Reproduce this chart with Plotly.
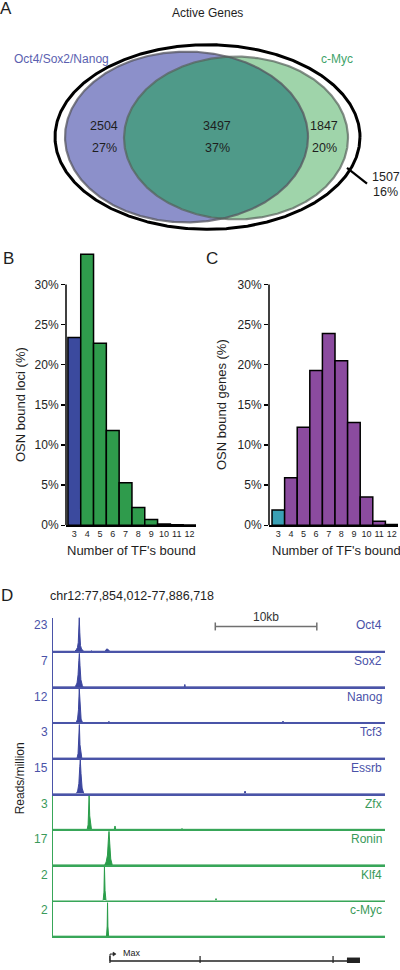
import numpy as np
import plotly.graph_objects as go

W, H = 400, 970
FONT = "Liberation Sans, Arial, sans-serif"
TXT = "#1e1e1e"

# ---------------- data ----------------
VENN_TITLE = "Active Genes"
SET_NAMES = ["Oct4/Sox2/Nanog", "c-Myc"]
VENN_COUNTS = [2504, 3497, 1847, 1507]          # OSN only, both, c-Myc only, neither
VENN_PCTS = ["27%", "37%", "20%", "16%"]

TF_BOUND = [3, 4, 5, 6, 7, 8, 9, 10, 11, 12]
LOCI_PCT = [23.4, 33.8, 22.7, 11.8, 5.3, 2.2, 0.7, 0.16, 0.05, 0.02]
GENES_PCT = [1.9, 5.9, 12.2, 19.3, 23.9, 20.5, 12.8, 3.5, 0.5, 0.08]
Y_TICKS = [0, 5, 10, 15, 20, 25, 30]

REGION = "chr12:77,854,012-77,886,718"
REGION_START, REGION_END = 77854012, 77886718

TRACK_NAMES = ["Oct4", "Sox2", "Nanog", "Tcf3", "Essrb", "Zfx", "Ronin", "Klf4", "c-Myc"]
TRACK_MAX = [23, 7, 12, 3, 15, 3, 17, 2, 2]
TRACK_GROUP = ["OSN", "OSN", "OSN", "OSN", "OSN", "Myc", "Myc", "Myc", "Myc"]

OCT4_POS = [77854012, 77856150, 77856300, 77856420, 77856500, 77856560, 77856600, 77856650, 77856720,
            77856820, 77856950, 77857050, 77857700, 77857780, 77857860, 77859150, 77859300, 77859450,
            77859600, 77886718]
OCT4_VAL = [0, 0, 1.0, 2.5, 6, 15, 23, 13, 4, 1.5, 0.5, 0, 0, 0.4, 0, 0, 1.6, 1.2, 0, 0]
SOX2_POS = [77854012, 77856200, 77856380, 77856480, 77856560, 77856610, 77856670, 77856760, 77856900,
            77857000, 77866950, 77867000, 77867050, 77886718]
SOX2_VAL = [0, 0, 0.8, 2.5, 5.5, 7, 4.5, 1.5, 0.3, 0, 0, 0.5, 0, 0]
NANOG_POS = [77854012, 77856300, 77856430, 77856520, 77856600, 77856680, 77856780, 77856920,
             77859450, 77859520, 77859590, 77876600, 77876670, 77876740, 77886718]
NANOG_VAL = [0, 0, 1.2, 4.5, 12, 5, 1.2, 0, 0, 0.4, 0, 0, 0.5, 0, 0]
TCF3_POS = [77854012, 77856380, 77856480, 77856560, 77856610, 77856670, 77856760, 77856850, 77886718]
TCF3_VAL = [0, 0, 0.4, 2.0, 3, 1.2, 0.2, 0, 0]
ESSRB_POS = [77854012, 77856300, 77856440, 77856560, 77856650, 77856700, 77856770, 77856880, 77857050,
             77859200, 77859250, 77859300, 77872850, 77872930, 77873010, 77886718]
ESSRB_VAL = [0, 0, 1.2, 4.5, 12, 15, 9, 2.5, 0, 0, 0.2, 0, 0, 1.2, 0, 0]
ZFX_POS = [77854012, 77857380, 77857470, 77857530, 77857570, 77857630, 77857720, 77857800,
           77860050, 77860120, 77860190, 77866650, 77866720, 77866790, 77886718]
ZFX_VAL = [0, 0, 0.4, 2.2, 3, 1.2, 0.2, 0, 0, 0.3, 0, 0, 0.08, 0, 0]
RONIN_POS = [77854012, 77859100, 77859250, 77859380, 77859470, 77859530, 77859600, 77859700, 77859850, 77886718]
RONIN_VAL = [0, 0, 1.5, 5, 13, 17, 11, 3, 0, 0]
KLF4_POS = [77854012, 77858950, 77859030, 77859080, 77859140, 77859230, 77870020, 77870070, 77870120, 77886718]
KLF4_VAL = [0, 0, 0.5, 2, 0.6, 0, 0, 0.12, 0, 0]
CMYC_POS = [77854012, 77859280, 77859350, 77859385, 77859420, 77859490, 77886718]
CMYC_VAL = [0, 0, 0.6, 2, 0.6, 0, 0]

TRACK_POS = [OCT4_POS, SOX2_POS, NANOG_POS, TCF3_POS, ESSRB_POS, ZFX_POS, RONIN_POS, KLF4_POS, CMYC_POS]
TRACK_VAL = [OCT4_VAL, SOX2_VAL, NANOG_VAL, TCF3_VAL, ESSRB_VAL, ZFX_VAL, RONIN_VAL, KLF4_VAL, CMYC_VAL]

SCALE_START, SCALE_END = 77870000, 77880000
SCALE_LABEL = "10kb"

GENE_NAME = "Max"
GENE_TSS = 77859627
GENE_END = 77884252
EXON_STARTS = [77859560, 77868440, 77881540, 77882970]
EXON_ENDS = [77859680, 77868560, 77881660, 77884252]

# ---------------- styles ----------------
BLUE_FILL = "#8c90ca"
GREEN_FILL = "#9fd4aa"
LENS_FILL = "#4f9a89"
BAR_B = ["#3b4a9e"] + ["#2f9b4c"] * 9
BAR_C = ["#3aa0b4"] + ["#8b4b9f"] * 9
GROUP_LINE = {"OSN": "#4a54a8", "Myc": "#38a659"}
GROUP_FILL = {"OSN": "#3c469e", "Myc": "#2a9d4a"}
GROUP_TEXT = {"OSN": "#4a52a8", "Myc": "#3a9a5a"}


def pxx(p):
    return p / W


def pyy(p):
    return 1 - p / H


fig = go.Figure()
layout = dict(
    width=W, height=H, margin=dict(l=0, r=0, t=0, b=0),
    paper_bgcolor="white", plot_bgcolor="rgba(0,0,0,0)",
    showlegend=False, hovermode=False,
    font=dict(family=FONT, color=TXT, size=12),
)
# canvas axis in pixel units
layout["xaxis"] = dict(domain=[0, 1], range=[0, W], visible=False, fixedrange=True)
layout["yaxis"] = dict(domain=[0, 1], range=[H, 0], visible=False, fixedrange=True)

shapes = []
ann = []


def text(x, y, s, size=12, color=TXT, xanchor="center", angle=0, xref="x", yref="y"):
    ann.append(dict(x=x, y=y, xref=xref, yref=yref, text=s, showarrow=False, xanchor=xanchor,
                    yanchor="middle", textangle=angle, font=dict(size=size, color=color, family=FONT)))


# ---------------- Panel A: Venn ----------------
def ell(cx, cy, rx, ry, n=721):
    t = np.linspace(0, 2 * np.pi, n)
    return cx + rx * np.cos(t), cy + ry * np.sin(t)


BLUE_E = (186.5, 138.0, 121.5, 86.0)
GREEN_E = (236.0, 139.0, 112.0, 82.0)
OUTER_E = (207.5, 138.0, 152.5, 93.0)

bx, by = ell(*BLUE_E)
gx, gy = ell(*GREEN_E)
ox, oy = ell(*OUTER_E)


def inside(x, y, e):
    cx, cy, rx, ry = e
    return ((x - cx) / rx) ** 2 + ((y - cy) / ry) ** 2 <= 1.0


mb = inside(bx, by, GREEN_E)
mg = inside(gx, gy, BLUE_E)
lx = np.concatenate([bx[mb], gx[mg]])
ly = np.concatenate([by[mb], gy[mg]])
ang = np.arctan2(ly - ly.mean(), lx - lx.mean())
order = np.argsort(ang)
lx, ly = lx[order], ly[order]

fig.add_trace(go.Scatter(x=bx, y=by, fill="toself", fillcolor=BLUE_FILL, mode="lines",
                         line=dict(width=0), xaxis="x", yaxis="y"))
fig.add_trace(go.Scatter(x=gx, y=gy, fill="toself", fillcolor=GREEN_FILL, mode="lines",
                         line=dict(width=0), xaxis="x", yaxis="y"))
fig.add_trace(go.Scatter(x=np.append(lx, lx[0]), y=np.append(ly, ly[0]), fill="toself", fillcolor=LENS_FILL,
                         mode="lines", line=dict(width=0), xaxis="x", yaxis="y"))
fig.add_trace(go.Scatter(x=bx, y=by, mode="lines", line=dict(color="rgba(85,85,95,0.75)", width=2.2),
                         xaxis="x", yaxis="y"))
fig.add_trace(go.Scatter(x=gx, y=gy, mode="lines", line=dict(color="rgba(85,95,90,0.7)", width=2.2),
                         xaxis="x", yaxis="y"))
fig.add_trace(go.Scatter(x=ox, y=oy, mode="lines", line=dict(color="black", width=3),
                         xaxis="x", yaxis="y"))
# pointer line to outer count
fig.add_trace(go.Scatter(x=[347, 367], y=[169, 185], mode="lines", line=dict(color="black", width=2.2),
                         xaxis="x", yaxis="y"))

text(6, 9, "A", size=17)
text(207, 13, VENN_TITLE, size=12)
text(61, 59, SET_NAMES[0], size=12, color="#5b5fb0")
text(337, 59, SET_NAMES[1], size=12, color="#3ea36a")
for cxp, cnt, pct in zip([104, 217, 324], VENN_COUNTS[:3], VENN_PCTS[:3]):
    text(cxp, 127, str(cnt), size=12.5)
    text(cxp, 149, pct, size=12.5)
text(386, 178, str(VENN_COUNTS[3]), size=12.5)
text(385, 193, VENN_PCTS[3], size=12.5)

# ---------------- Panels B and C: bars ----------------
Y0_PX, PX_PER_PCT = 529.0, 8.077
YMAX = 35
y_dom = [pyy(Y0_PX), pyy(Y0_PX - YMAX * PX_PER_PCT)]


def bar_panel(idx, xdom, xr, vals, colors, ytitle, ytitle_x, xtitle_x):
    xa, ya = f"x{idx}", f"y{idx}"
    fig.add_trace(go.Bar(x=TF_BOUND, y=vals, width=1.0, marker=dict(color=colors, line=dict(color="black", width=1.5)),
                         xaxis=xa, yaxis=ya))
    layout[f"xaxis{idx}"] = dict(domain=xdom, range=xr, anchor=ya, showline=True, linecolor="black", linewidth=1.5,
                                 tickmode="array", tickvals=TF_BOUND, ticktext=[str(v) for v in TF_BOUND],
                                 ticks="", tickfont=dict(size=9, color=TXT), showgrid=False, zeroline=False,
                                 fixedrange=True)
    layout[f"yaxis{idx}"] = dict(domain=y_dom, range=[0, YMAX], anchor=xa, showline=False, ticks="outside",
                                 ticklen=4, tickwidth=1.3, tickcolor="black", tickmode="array", tickvals=Y_TICKS,
                                 ticktext=[f"{v}%" for v in Y_TICKS], tickfont=dict(size=12, color=TXT),
                                 showgrid=False, zeroline=False, fixedrange=True)
    shapes.append(dict(type="line", xref=f"{xa} domain", yref=ya, x0=0, x1=0, y0=0, y1=30,
                       line=dict(color="black", width=1.5)))
    text(ytitle_x, 408, ytitle, size=13, angle=-90)
    text(xtitle_x, 554, "Number of TF's bound", size=13)


bar_panel(2, [pxx(66), pxx(196)], [2.35, 12.5], LOCI_PCT, BAR_B, "OSN bound loci (%)", 20, 131)
bar_panel(3, [pxx(269), pxx(398)], [2.26, 12.5], GENES_PCT, BAR_C, "OSN bound genes (%)", 221, 336)
text(8, 260, "B", size=17)
text(212, 260, "C", size=17)

# ---------------- Panel D: tracks ----------------
text(7, 600, "D", size=17)
text(48, 600, REGION, size=12.5, xanchor="left")
text(20, 784, "Reads/million", size=12, angle=-90)

TRACK_TOP_BASE = 656.0
TRACK_STEP = 35.875
TRACK_H = 34.0
for k, name in enumerate(TRACK_NAMES):
    n = 4 + k
    b = TRACK_TOP_BASE + TRACK_STEP * k
    g = TRACK_GROUP[k]
    fig.add_trace(go.Scatter(x=TRACK_POS[k], y=TRACK_VAL[k], mode="lines", fill="tozeroy",
                             fillcolor=GROUP_FILL[g], line=dict(color=GROUP_FILL[g], width=1.0),
                             xaxis=f"x{n}", yaxis=f"y{n}"))
    layout[f"xaxis{n}"] = dict(domain=[pxx(53), pxx(385)], range=[REGION_START, REGION_END], anchor=f"y{n}",
                               showline=True, linecolor=GROUP_LINE[g], linewidth=1.8, showticklabels=False,
                               ticks="", showgrid=False, zeroline=False, fixedrange=True)
    layout[f"yaxis{n}"] = dict(domain=[pyy(b), pyy(b - TRACK_H)], range=[0, TRACK_MAX[k]], anchor=f"x{n}",
                               showline=True, linecolor=GROUP_LINE[g], linewidth=1.5, showticklabels=False,
                               ticks="", showgrid=False, zeroline=False, fixedrange=True)
    text(50, b - 26, str(TRACK_MAX[k]), size=12, color=GROUP_TEXT[g], xanchor="right")
    text(384, b - 26, name, size=12, color=GROUP_TEXT[g], xanchor="right")

# scale bar (on the genomic axis of the first track, y in pixels)
shapes.append(dict(type="line", xref="x4", yref="y", x0=SCALE_START, x1=SCALE_END, y0=631, y1=631,
                   line=dict(color="#707070", width=1.5)))
for sx in (SCALE_START, SCALE_END):
    shapes.append(dict(type="line", xref="x4", yref="y", x0=sx, x1=sx, y0=627, y1=635,
                       line=dict(color="#707070", width=1.5)))
ann.append(dict(x=(SCALE_START + SCALE_END) / 2, y=621, xref="x4", yref="y", text=SCALE_LABEL, showarrow=False,
                font=dict(size=12, color="#333", family=FONT)))

# gene model
shapes.append(dict(type="line", xref="x4", yref="y", x0=GENE_TSS, x1=GENE_END, y0=968, y1=968,
                   line=dict(color="#222", width=1.4)))
for s, e in zip(EXON_STARTS, EXON_ENDS):
    thick = (e - s) > 500
    shapes.append(dict(type="rect", xref="x4", yref="y", x0=s, x1=e, y0=964.5 if thick else 963, y1=970.5,
                       fillcolor="#222", line=dict(width=0)))
shapes.append(dict(type="path", xref="x4", yref="y",
                   path=f"M {GENE_TSS},968 L {GENE_TSS},961 L {GENE_TSS + 350},961",
                   line=dict(color="#222", width=1)))
shapes.append(dict(type="path", xref="x4", yref="y",
                   path=f"M {GENE_TSS + 300},959 L {GENE_TSS + 600},961 L {GENE_TSS + 300},963 Z",
                   fillcolor="#222", line=dict(color="#222", width=0.5)))
ann.append(dict(x=GENE_TSS + 1050, y=960, xref="x4", yref="y", text=GENE_NAME, showarrow=False, xanchor="left",
                font=dict(size=9, color="#222", family=FONT)))

layout["shapes"] = shapes
layout["annotations"] = ann
fig.update_layout(**layout)
fig.write_html("out.html", config={"displayModeBar": False, "staticPlot": True},
               post_script="document.body.style.margin='0';document.body.style.padding='0';"
                           "document.documentElement.style.overflow='hidden';")
